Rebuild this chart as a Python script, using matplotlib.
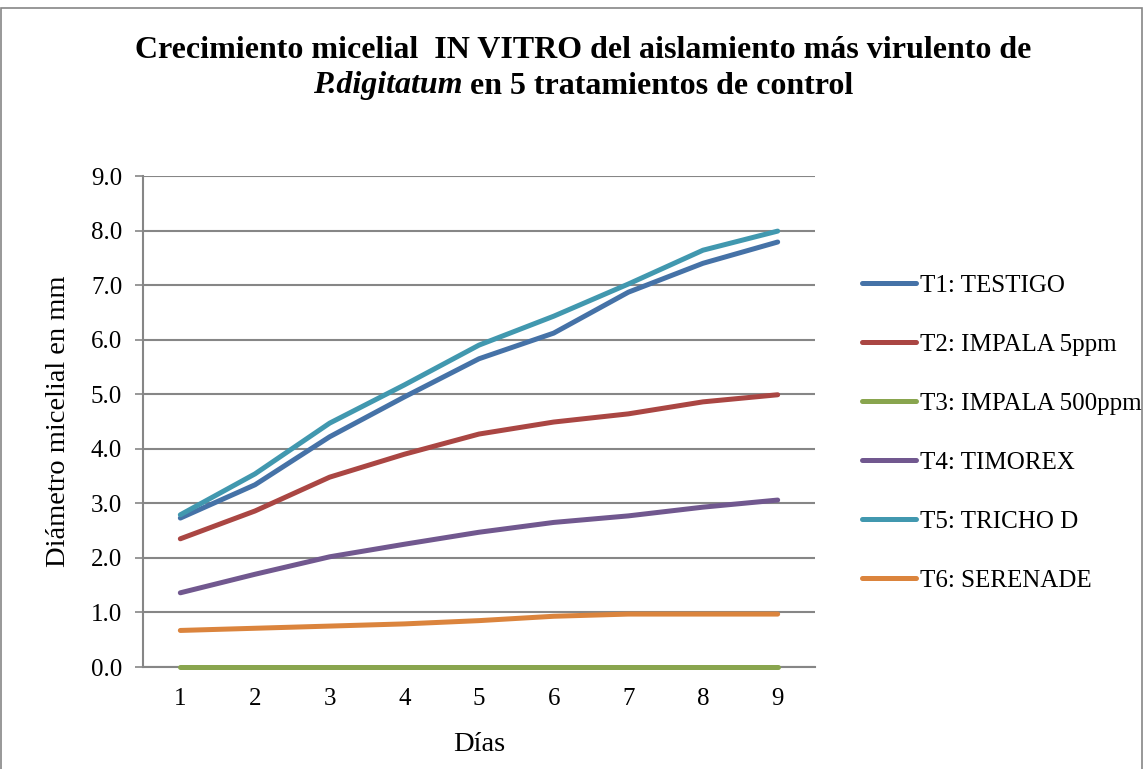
import numpy as np
import matplotlib.pyplot as plt
from matplotlib.patches import Rectangle

plt.rcParams['font.family'] = ['Liberation Serif', 'DejaVu Serif']

# data
dias = [1, 2, 3, 4, 5, 6, 7, 8, 9]
t1 = [2.73, 3.34, 4.22, 4.95, 5.65, 6.12, 6.87, 7.40, 7.79]
t2 = [2.35, 2.86, 3.48, 3.90, 4.27, 4.49, 4.64, 4.86, 4.99]
t3 = [0, 0, 0, 0, 0, 0, 0, 0, 0]
t4 = [1.36, 1.70, 2.02, 2.25, 2.47, 2.65, 2.77, 2.93, 3.06]
t5 = [2.79, 3.54, 4.47, 5.17, 5.90, 6.43, 7.02, 7.64, 7.99]
t6 = [0.67, 0.71, 0.75, 0.79, 0.85, 0.93, 0.97, 0.97, 0.97]

series = [
    ("T1: TESTIGO", t1, "#4572a7"),
    ("T2: IMPALA 5ppm", t2, "#aa4643"),
    ("T3: IMPALA 500ppm", t3, "#89a54e"),
    ("T4: TIMOREX", t4, "#71588f"),
    ("T5: TRICHO D", t5, "#4198af"),
    ("T6: SERENADE", t6, "#db843d"),
]

W, H = 1146, 769
fig = plt.figure(figsize=(W / 100, H / 100), dpi=100)
ax = fig.add_axes([143 / W, 1 - 667 / H, (815 - 143) / W, (667 - 176) / H])

handles = []
for name, vals, col in series:
    h, = ax.plot(dias, vals, color=col, lw=3.6, solid_capstyle='round', label=name,
                 clip_on=False, zorder=3)
    handles.append(h)

ax.set_xlim(0.5, 9.5)
ax.set_ylim(0, 9)
yt = np.arange(0, 9.5, 1.0)
ax.set_yticks(yt)
ax.set_yticklabels([f"{v:.1f}" for v in yt])
ax.set_xticks(dias)
ax.tick_params(axis='both', labelsize=18, color='#868686', length=6, width=1.2)
ax.tick_params(axis='y', pad=9)
ax.tick_params(axis='x', length=0, pad=15)
ax.grid(axis='y', color='#868686', lw=1.5)
ax.set_axisbelow(True)
for s in ['top', 'right']:
    ax.spines[s].set_visible(False)
for s in ['left', 'bottom']:
    ax.spines[s].set_color('#868686')
    ax.spines[s].set_linewidth(1.5)

ax.set_ylabel("Diámetro micelial en mm", fontsize=20.5, labelpad=14)
ax.set_xlabel("Días", fontsize=20.5, labelpad=16)

# title
cx = 583 / W
fig.text(cx, 1 - 50 / H, "Crecimiento micelial  IN VITRO del aislamiento más virulento de",
         ha='center', va='center', fontsize=23, fontweight='bold')
renderer = fig.canvas.get_renderer()
p1 = fig.text(0, 1 - 86 / H, "P.digitatum", ha='left', va='center', fontsize=23,
              fontweight='bold', style='italic')
p2 = fig.text(0, 1 - 86 / H, " en 5 tratamientos de control", ha='left', va='center',
              fontsize=23, fontweight='bold')
w1 = p1.get_window_extent(renderer).width
w2 = p2.get_window_extent(renderer).width
x0 = cx * W - (w1 + w2) / 2
p1.set_x(x0 / W)
p2.set_x((x0 + w1) / W)

fig.legend(handles=handles, loc='center left', bbox_to_anchor=(852 / W, 1 - 433 / H),
           frameon=False, fontsize=18, handlelength=2.15, handletextpad=0.15,
           labelspacing=1.46, borderaxespad=0)

fig.patches.append(Rectangle((1 / W, -0.01), 1141 / W, 1.0, transform=fig.transFigure,
                             fill=False, edgecolor='#868686', lw=1.2))

fig.savefig("out.png", dpi=100)
